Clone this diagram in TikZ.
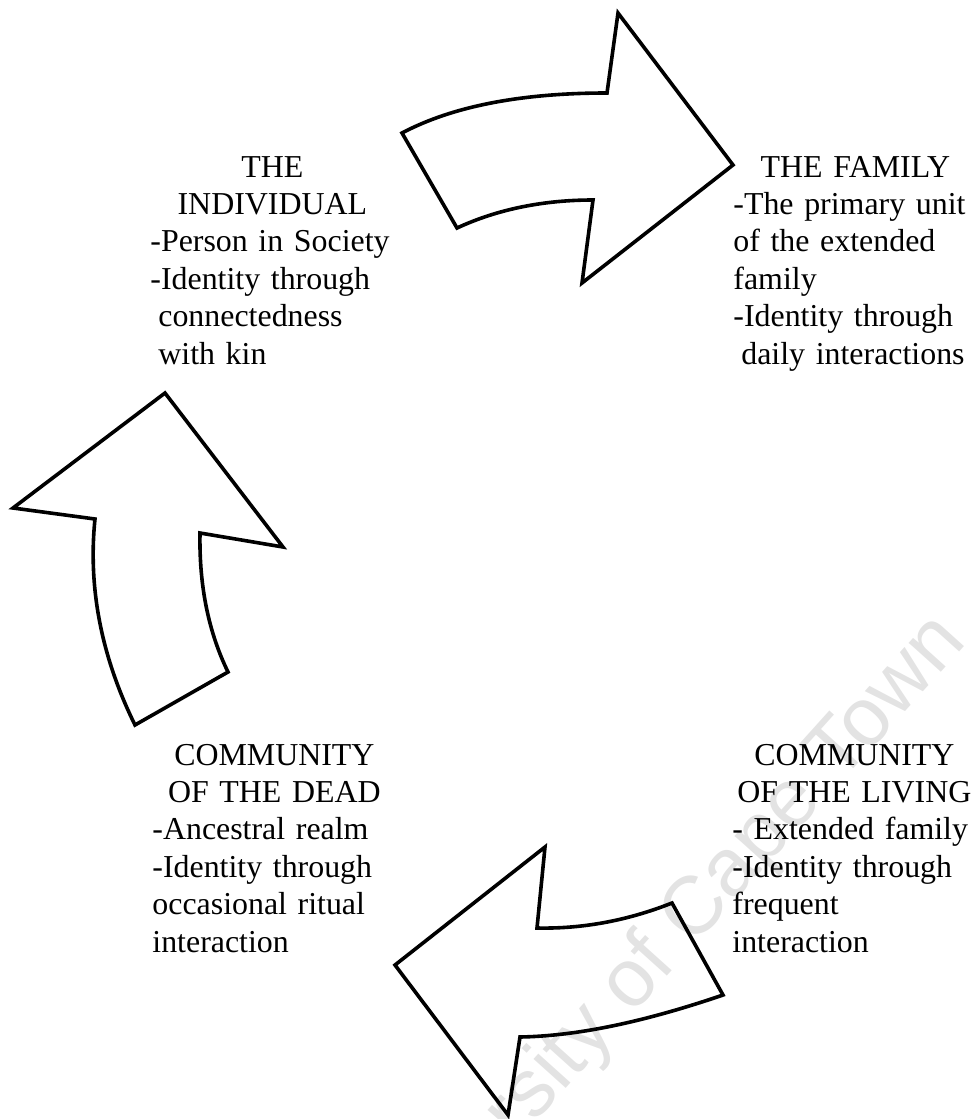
\documentclass[tikz,border=0pt]{standalone}
\usepackage{fontspec}
\setmainfont{Liberation Serif}
\newfontfamily\wmfont{Liberation Sans}
\begin{document}
\begin{tikzpicture}[x=0.5pt,y=-0.5pt,
  blockarrow/.style={draw=black, line width=1.8pt, line join=miter},
  textblock/.style={inner sep=0pt, anchor=base west, text width=122pt, align=left,
    font=\fontsize{15.95pt}{18.7pt}\selectfont},
  wmark/.style={inner sep=0pt, text=black!11, font=\wmfont\fontsize{41pt}{41pt}\selectfont}]
\useasboundingbox (0,0) rectangle (974,1119);

% faint diagonal watermark behind everything
\node[wmark, rotate=48, anchor=base east] (wm) at (968,642) {University of Cape Town};

% arrow: individual -> family
\draw[blockarrow] (402,133) .. controls (453,106) and (522,93) .. (607,93)
  -- (618,13) -- (733,165) -- (582,283) -- (593,200)
  .. controls (544,200) and (498,209) .. (457,228) -- cycle;

% arrow: community of the dead -> individual
\draw[blockarrow] (165,393) -- (283,547) -- (200,533)
  .. controls (199,587) and (209,633) .. (228,672) -- (135,725)
  .. controls (101,656) and (88,587) .. (95,519) -- (13,508) -- cycle;

% arrow: community of the living -> community of the dead
\draw[blockarrow] (545,847) -- (537,928)
  .. controls (584,929) and (629,920) .. (672,903) -- (723,995)
  .. controls (644,1022) and (577,1036) .. (520,1037)
  -- (508,1115) -- (395,965) -- cycle;

\node[textblock] (individual) at (150,177) {%
  \makebox[\linewidth]{THE}\\
  \makebox[\linewidth]{INDIVIDUAL}\\
  -Person in Society\\
  -Identity through\\
  \hspace*{.25em}connectedness\\
  \hspace*{.25em}with kin};

\node[textblock] (family) at (733,177) {%
  \makebox[\linewidth]{THE FAMILY}\\
  -The primary unit\\
  of the extended\\
  family\\
  -Identity through\\
  \hspace*{.25em}daily interactions};

\node[textblock] (dead) at (152,765) {%
  \makebox[\linewidth]{COMMUNITY}\\
  \makebox[\linewidth]{OF THE DEAD}\\
  -Ancestral realm\\
  -Identity through\\
  occasional ritual\\
  interaction};

\node[textblock] (living) at (732,765) {%
  \makebox[\linewidth]{COMMUNITY}\\
  \makebox[\linewidth]{OF THE LIVING}\\
  - Extended family\\
  -Identity through\\
  frequent\\
  interaction};
\end{tikzpicture}
\end{document}
